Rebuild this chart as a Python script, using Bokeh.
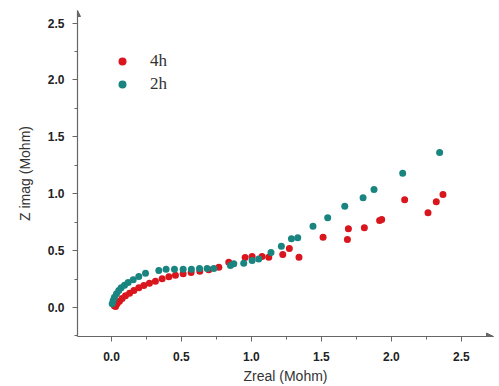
from bokeh.plotting import figure
from bokeh.models import Range1d, SingleIntervalTicker, Arrow, NormalHead, Legend, LegendItem, NumeralTickFormatter
from bokeh.embed import file_html
from bokeh.resources import INLINE

# 4h series (Zreal, Zimag) in Mohm
z4_real = [0.020, 0.029, 0.040, 0.057, 0.076, 0.100, 0.129, 0.160, 0.195, 0.231, 0.271,
           0.314, 0.362, 0.410, 0.457, 0.512, 0.569, 0.631, 0.695, 0.767, 0.838, 0.955,
           1.005, 1.076, 1.124, 1.224, 1.271, 1.340, 1.512, 1.686, 1.693, 1.807, 1.916,
           1.931, 2.095, 2.262, 2.321, 2.369]
z4_imag = [0.015, 0.009, 0.032, 0.055, 0.079, 0.103, 0.126, 0.149, 0.173, 0.193, 0.214,
           0.231, 0.252, 0.270, 0.284, 0.296, 0.308, 0.319, 0.331, 0.354, 0.398, 0.439,
           0.448, 0.448, 0.442, 0.466, 0.518, 0.442, 0.618, 0.598, 0.691, 0.700, 0.765,
           0.773, 0.946, 0.832, 0.929, 0.993]

# 2h series
z2_real = [0.005, 0.012, 0.021, 0.036, 0.052, 0.069, 0.093, 0.119, 0.155, 0.195, 0.243,
           0.338, 0.390, 0.450, 0.512, 0.571, 0.629, 0.683, 0.731, 0.850, 0.874, 0.945,
           1.005, 1.052, 1.140, 1.214, 1.286, 1.331, 1.440, 1.545, 1.667, 1.798, 1.876,
           2.081, 2.345]
z2_imag = [0.032, 0.062, 0.091, 0.120, 0.149, 0.173, 0.196, 0.220, 0.243, 0.272, 0.301,
           0.325, 0.337, 0.337, 0.337, 0.337, 0.343, 0.343, 0.343, 0.369, 0.384, 0.389,
           0.413, 0.425, 0.483, 0.539, 0.603, 0.612, 0.714, 0.788, 0.890, 0.964, 1.037,
           1.180, 1.362]

RED = "#d9161d"
TEAL = "#1a8580"
AXIS = "#666666"

p = figure(frame_width=416, frame_height=326, min_border_left=77, min_border_top=10,
           min_border_right=6, min_border_bottom=50,
           x_range=Range1d(-0.243, 2.73), y_range=Range1d(-0.255, 2.61),
           output_backend="svg", toolbar_location=None)
p.outline_line_color = None
p.xgrid.visible = False
p.ygrid.visible = False
p.background_fill_color = "white"
p.border_fill_color = "white"

r4 = p.scatter(z4_real, z4_imag, size=7, color=RED, line_color=None)
r2 = p.scatter(z2_real, z2_imag, size=7, color=TEAL, line_color=None)

for ax in (p.xaxis[0], p.yaxis[0]):
    ax.axis_line_color = AXIS
    ax.axis_line_width = 1.2
    ax.major_tick_line_color = AXIS
    ax.minor_tick_line_color = AXIS
    ax.major_tick_out = 5
    ax.major_tick_in = 0
    ax.minor_tick_out = 3
    ax.minor_tick_in = 0
    ax.major_label_text_font = "Liberation Sans"
    ax.major_label_text_font_style = "bold"
    ax.major_label_text_font_size = "12px"
    ax.major_label_text_color = "#222222"
    ax.axis_label_text_font = "Liberation Sans"
    ax.axis_label_text_font_style = "normal"
    ax.axis_label_text_font_size = "14px"
    ax.axis_label_text_color = "#333333"
    ax.formatter = NumeralTickFormatter(format="0.0")

p.xaxis.ticker = SingleIntervalTicker(interval=0.5, num_minor_ticks=2)
p.yaxis.ticker = SingleIntervalTicker(interval=0.5, num_minor_ticks=2)
p.xaxis.axis_label = "Zreal (Mohm)"
p.yaxis.axis_label = "Z imag (Mohm)"
p.xaxis.major_label_standoff = 10
p.yaxis.major_label_standoff = 8
p.xaxis.axis_label_standoff = 4
p.yaxis.axis_label_standoff = 12

p.add_layout(Arrow(end=NormalHead(size=7, fill_color=AXIS, line_color=AXIS),
                   line_color=AXIS, x_start=2.68, y_start=-0.255, x_end=2.73, y_end=-0.255))
p.add_layout(Arrow(end=NormalHead(size=6, fill_color=AXIS, line_color=AXIS),
                   line_color=AXIS, x_start=-0.243, y_start=2.57, x_end=-0.243, y_end=2.61))

legend = Legend(items=[LegendItem(label="4h", renderers=[r4]),
                       LegendItem(label="2h", renderers=[r2])],
                location=(35, 242), border_line_color=None, background_fill_alpha=0,
                label_text_font="Liberation Serif", label_text_font_size="17px",
                label_text_color="#333333", label_standoff=18, glyph_width=20,
                spacing=3, padding=6)
p.add_layout(legend)

open("out.html", "w").write(file_html(p, INLINE))
